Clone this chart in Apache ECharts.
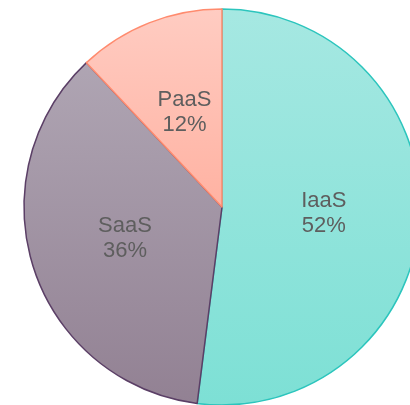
<!DOCTYPE html>
<html>
<head>
<meta charset="utf-8">
<script src="https://cdn.jsdelivr.net/npm/echarts@6/dist/echarts.min.js"></script>
<style>
  html, body { margin: 0; padding: 0; background: #fff; }
  #chart { width: 410px; height: 405px; }
</style>
</head>
<body>
<div id="chart"></div>
<script>
const categories = ["IaaS", "SaaS", "PaaS"];
const shares = [52, 36, 12];
const topColors = ["#a6e8e2", "#afa5b3", "#ffccc2"];
const bottomColors = ["#7de0d5", "#928193", "#ffb2a2"];
const borderColors = ["#2cc5bd", "#5b3f66", "#ff8b6e"];

function makeData() {
  let result = [];
  for (let i = 0; i < categories.length; i++) {
    result.push({
      name: categories[i],
      value: shares[i],
      itemStyle: {
        color: new echarts.graphic.LinearGradient(0, 0, 0, 1, [
          { offset: 0, color: topColors[i] },
          { offset: 1, color: bottomColors[i] },
        ]),
        borderColor: borderColors[i],
        borderWidth: 1.5,
      },
    });
  }
  return result;
}

let dom = document.getElementById("chart");
let myChart = echarts.init(dom, null, { renderer: "canvas" });
let option = {
  animation: false,
  series: [
    {
      type: "pie",
      center: [222, 207],
      radius: [0, 198],
      startAngle: 90,
      clockwise: true,
      data: makeData(),
      label: {
        position: "inside",
        formatter: "{b}\n{c}%",
        fontFamily: "Liberation Sans",
        fontSize: 22,
        lineHeight: 25,
        color: "#5e5e5e",
      },
      labelLine: { show: false },
      emphasis: { disabled: true },
    },
  ],
};
myChart.setOption(option);
</script>
</body>
</html>
